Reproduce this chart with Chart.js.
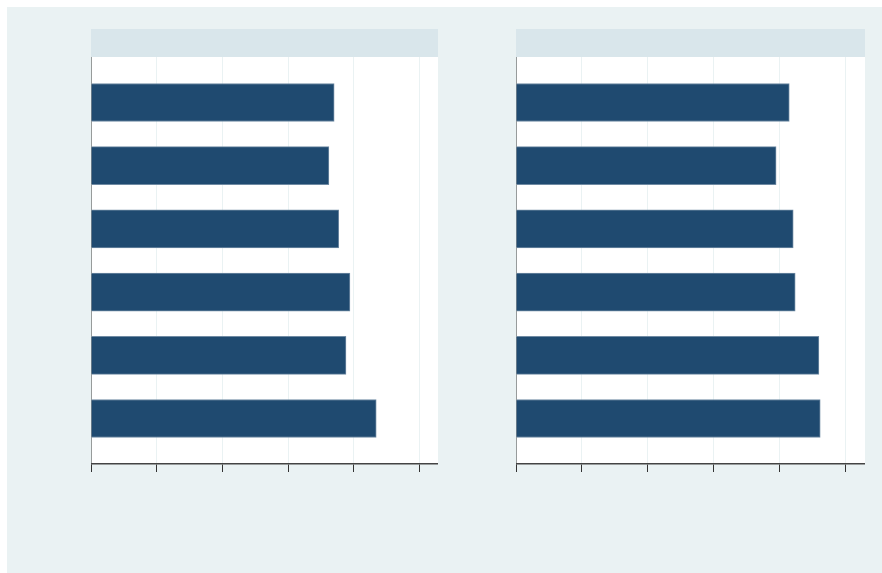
<!DOCTYPE html>
<html>
<head>
<meta charset="utf-8">
<script src="https://cdn.jsdelivr.net/npm/chart.js@4.4.0/dist/chart.umd.min.js"></script>
<style>
  html, body { margin: 0; padding: 0; background: #ffffff; }
  #bg { position: absolute; left: 7px; top: 7px; width: 875px; height: 566px; background: #eaf2f3; }
  .strip { position: absolute; top: 29px; height: 28px; background: #d9e6eb; }
  .box { position: absolute; top: 57px; }
</style>
</head>
<body>
<div id="bg"></div>
<div class="strip" style="left:91px; width:347px;"></div>
<div class="strip" style="left:516px; width:349px;"></div>
<div class="box" style="left:91px; width:347px; height:415px;"><canvas id="left"></canvas></div>
<div class="box" style="left:516px; width:349px; height:415px;"><canvas id="right"></canvas></div>
<script>
// six categories, top to bottom
var categories = ['1', '2', '3', '4', '5', '6'];
var leftValues = [37.0, 36.2, 37.7, 39.4, 38.8, 43.4];
var rightValues = [41.5, 39.5, 42.1, 42.4, 46.0, 46.2];
var xTicks = [0, 10, 20, 30, 40, 50];

// white plot background
var plotBg = {
    id: 'plotBg',
    beforeDraw: function (chart) {
        var a = chart.chartArea;
        var ctx = chart.ctx;
        ctx.save();
        ctx.fillStyle = '#ffffff';
        ctx.fillRect(a.left, a.top, a.right - a.left, a.bottom - a.top);
        ctx.restore();
    }
};

const panel = (id, values, xmax) => {
    var ctx = document.getElementById(id).getContext('2d');
    return new Chart(ctx, {
        type: 'bar',
        data: {
            datasets: [{
                data: values.map(function (v, i) { return { x: v, y: i }; }),
                backgroundColor: '#1f4a70',
                borderColor: '#6f8aa3',
                borderWidth: 1,
                borderSkipped: 'left',
                barThickness: 38
            }]
        },
        plugins: [plotBg],
        options: {
            indexAxis: 'y',
            responsive: true,
            maintainAspectRatio: false,
            animation: false,
            layout: { padding: 0 },
            plugins: { legend: { display: false }, tooltip: { enabled: false } },
            scales: {
                x: {
                    type: 'linear',
                    min: 0,
                    max: xmax,
                    afterBuildTicks: function (axis) {
                        axis.ticks = xTicks.map(function (v) { return { value: v }; });
                    },
                    grid: {
                        color: '#eaf2f3',
                        lineWidth: 1,
                        drawTicks: true,
                        tickColor: '#333333',
                        tickLength: 8
                    },
                    border: { display: true, color: '#444444', width: 1.5 },
                    ticks: { display: false }
                },
                y: {
                    type: 'linear',
                    reverse: true,
                    offset: false,
                    min: -0.72,
                    max: categories.length - 1 + 0.72,
                    grid: { display: false, drawTicks: false, offset: false },
                    border: { display: true, color: '#444444', width: 1.5 },
                    ticks: { display: false }
                }
            }
        }
    });
}

panel('left', leftValues, 52.8);
panel('right', rightValues, 53.0);
</script>
</body>
</html>
